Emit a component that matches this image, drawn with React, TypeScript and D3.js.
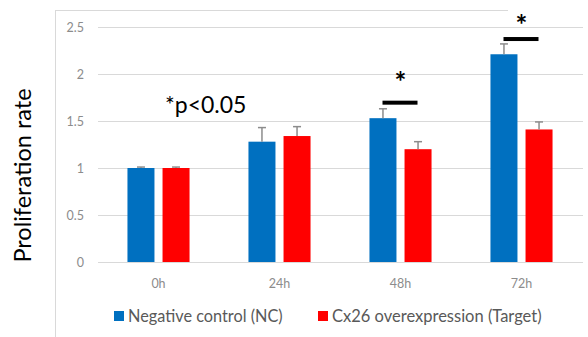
import React from "react";
import * as d3 from "d3";

const categories = ["0h", "24h", "48h", "72h"];
const seriesNames = ["Negative control (NC)", "Cx26 overexpression (Target)"];
const ncValues = [1.0, 1.28, 1.53, 2.21];
const ncErrors = [0.01, 0.15, 0.1, 0.11];
const targetValues = [1.0, 1.34, 1.2, 1.41];
const targetErrors = [0.01, 0.1, 0.08, 0.08];
const yTicks = [0, 0.5, 1, 1.5, 2, 2.5];
const sigMarks = [
  { category: "48h", line: 1.695, star: 1.97 },
  { category: "72h", line: 2.372, star: 2.575 },
];

const W = 588;
const H = 337;
const colors = ["#0070C0", "#FF0000"];
const font = "Lato, 'Open Sans', sans-serif";

export default function App() {
  const x = d3.scaleBand<string>().domain(categories).range([98, 582]);
  const inner = d3
    .scaleBand<string>()
    .domain(seriesNames)
    .range([0, x.bandwidth()])
    .paddingInner(0.23)
    .paddingOuter(0.84);
  const y = d3.scaleLinear().domain([0, 2.5]).range([262, 27]);

  const series = [
    { name: seriesNames[0], values: ncValues, errors: ncErrors, color: colors[0] },
    { name: seriesNames[1], values: targetValues, errors: targetErrors, color: colors[1] },
  ];

  return (
    <svg width={W} height={H} style={{ position: "absolute", left: 0, top: 0 }} fontFamily={font}>
      <rect x={0} y={0} width={W} height={H} fill="#fff" />
      {/* chart frame */}
      <line x1={55.5} x2={55.5} y1={10} y2={H} stroke="#d9d9d9" />
      <line x1={55} x2={W} y1={10.5} y2={10.5} stroke="#d9d9d9" />

      {/* gridlines + y labels */}
      {yTicks.map((t) => (
        <g key={t}>
          <line x1={98} x2={583} y1={Math.round(y(t)) + 0.5} y2={Math.round(y(t)) + 0.5} stroke="#d9d9d9" />
          <text x={84} y={y(t) + 4.5} textAnchor="end" fontSize={12.5} fill="#8c8c8c">
            {t}
          </text>
        </g>
      ))}

      {/* bars and error bars */}
      {series.map((s) =>
        categories.map((c, i) => {
          const bx = (x(c) ?? 0) + (inner(s.name) ?? 0);
          const bw = inner.bandwidth();
          const cx = bx + bw / 2;
          const top = y(s.values[i] + s.errors[i]);
          return (
            <g key={s.name + c}>
              <rect x={bx} y={y(s.values[i])} width={bw} height={y(0) - y(s.values[i])} fill={s.color} />
              <line x1={cx} x2={cx} y1={y(s.values[i])} y2={top} stroke="#8c8c8c" strokeWidth={1.5} />
              <line x1={cx - 4} x2={cx + 4} y1={top} y2={top} stroke="#8c8c8c" strokeWidth={1.5} />
            </g>
          );
        })
      )}

      {/* x labels */}
      {categories.map((c) => (
        <text key={c} x={(x(c) ?? 0) + x.bandwidth() / 2} y={288} textAnchor="middle" fontSize={12.5} fill="#8c8c8c">
          {c}
        </text>
      ))}

      {/* significance marks */}
      <rect x={508} y={0} width={80} height={25} fill="#fff" />
      {sigMarks.map((m) => {
        const cx = (x(m.category) ?? 0) + x.bandwidth() / 2;
        const ly = y(m.line);
        return (
          <g key={m.category}>
            <rect x={cx - 18} y={ly - 2} width={35} height={4} fill="#000" />
            <text x={cx} y={y(m.star) + 15} textAnchor="middle" fontSize={28} fontWeight="bold" fill="#000">
              *
            </text>
          </g>
        );
      })}

      <text x={165} y={113} fontSize={23} fill="#000">
        *p&lt;0.05
      </text>

      {/* y axis title */}
      <text
        transform={`translate(31,${(83 + 268) / 2}) rotate(-90)`}
        textAnchor="middle"
        fontSize={23.5}
        fill="#000"
      >
        Proliferation rate
      </text>

      {/* legend */}
      <rect x={114} y={311} width={10} height={10} fill={colors[0]} />
      <text x={128} y={322} fontSize={16.3} fill="#595959">
        {seriesNames[0]}
      </text>
      <rect x={318} y={311} width={10} height={10} fill={colors[1]} />
      <text x={332} y={322} fontSize={16.5} fill="#595959">
        {seriesNames[1]}
      </text>
    </svg>
  );
}
